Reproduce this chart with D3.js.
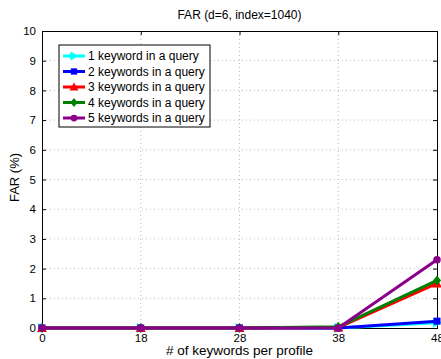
<!DOCTYPE html>
<html>
<head>
<meta charset="utf-8">
<script src="https://cdn.jsdelivr.net/npm/d3@7"></script>
<style>
body { margin: 0; background: #fff; }
text { font-family: "Liberation Sans", Arial, sans-serif; }
</style>
</head>
<body>
<div id="chart"></div>
<script>
const categories = ["0", "18", "28", "38", "48"];
const seriesNames = [
	"1 keyword in a query",
	"2 keywords in a query",
	"3 keywords in a query",
	"4 keywords in a query",
	"5 keywords in a query"
];
const s1 = [0, 0, 0, 0, 0.18];
const s2 = [0, 0, 0, 0, 0.23];
const s3 = [0, 0, 0, 0.02, 1.5];
const s4 = [0, 0, 0, 0.04, 1.6];
const s5 = [0, 0, 0, 0, 2.3];
const yTicks = [0, 1, 2, 3, 4, 5, 6, 7, 8, 9, 10];

const colors = ["#00ffff", "#0000ff", "#ff0000", "#008000", "#8b008b"];
const symbols = ["tri-right", "square", "tri-up", "diamond", "circle"];
const series = [s1, s2, s3, s4, s5];

const w = 441, h = 359;
const margin = { t: 31, r: 4, b: 31, l: 42 };

const svg = d3.select("#chart").append("svg")
	.attr("width", w)
	.attr("height", h);

let xScale = d3.scalePoint()
	.domain(categories)
	.range([margin.l, w - margin.r]);

let yScale = d3.scaleLinear()
	.domain([0, 10])
	.range([h - margin.b, margin.t]);

// grid
let grid = svg.append("g");
grid.selectAll(".gy").data(yTicks.slice(1, -1)).join("line")
	.attr("x1", margin.l).attr("x2", w - margin.r)
	.attr("y1", d => yScale(d)).attr("y2", d => yScale(d))
	.attr("stroke", "#bbb").attr("stroke-dasharray", "1,3");
grid.selectAll(".gx").data(categories.slice(1, -1)).join("line")
	.attr("x1", d => xScale(d)).attr("x2", d => xScale(d))
	.attr("y1", margin.t).attr("y2", h - margin.b)
	.attr("stroke", "#bbb").attr("stroke-dasharray", "1,3");

// axes
let xAxis = d3.axisBottom(xScale).tickSize(-4).tickPadding(6);
let xAxisG = svg.append("g")
	.attr("transform", `translate(0, ${h - margin.b})`)
	.call(xAxis);
let xTopG = svg.append("g")
	.attr("transform", `translate(0, ${margin.t})`)
	.call(d3.axisTop(xScale).tickSize(-4).tickFormat(""));
let yAxis = d3.axisLeft(yScale).tickValues(yTicks).tickSize(-4).tickPadding(6);
let yAxisG = svg.append("g")
	.attr("transform", `translate(${margin.l}, 0)`)
	.call(yAxis);
let yRightG = svg.append("g")
	.attr("transform", `translate(${w - margin.r}, 0)`)
	.call(d3.axisRight(yScale).tickValues(yTicks).tickSize(-4).tickFormat(""));
[xAxisG, xTopG, yAxisG, yRightG].forEach(g => {
	g.selectAll("path").attr("stroke", "#000");
	g.selectAll("line").attr("stroke", "#000");
	g.selectAll("text").attr("font-size", 11.5).attr("fill", "#000")
		.style("font-family", "Liberation Sans, Arial, sans-serif");
});

function marker(g, type, x, y, color, size) {
	if (type === "circle") {
		g.append("circle").attr("cx", x).attr("cy", y).attr("r", size * 0.75).attr("fill", color);
	} else if (type === "square") {
		g.append("rect").attr("x", x - size * 0.7).attr("y", y - size * 0.7)
			.attr("width", size * 1.4).attr("height", size * 1.4).attr("fill", color);
	} else {
		let s = size;
		let pts;
		if (type === "tri-up") pts = [[x, y - s], [x - s, y + s * 0.8], [x + s, y + s * 0.8]];
		if (type === "tri-right") pts = [[x + s, y], [x - s * 0.8, y - s], [x - s * 0.8, y + s]];
		if (type === "diamond") pts = [[x, y - s], [x + s * 0.8, y], [x, y + s], [x - s * 0.8, y]];
		g.append("polygon").attr("points", pts.map(p => p.join(",")).join(" ")).attr("fill", color);
	}
}

// lines
let line = d3.line()
	.x((d, i) => xScale(categories[i]))
	.y(d => yScale(d));

let plot = svg.append("g");
series.forEach((s, k) => {
	let g = plot.append("g");
	g.append("path").datum(s)
		.attr("d", line)
		.attr("fill", "none")
		.attr("stroke", colors[k])
		.attr("stroke-width", 3);
	s.forEach((v, i) => marker(g, symbols[k], xScale(categories[i]), yScale(v), colors[k], 5));
});

// title and labels
svg.append("text").attr("x", (margin.l + w - margin.r) / 2).attr("y", 19)
	.attr("text-anchor", "middle").attr("font-size", 12).text("FAR (d=6, index=1040)");
svg.append("text").attr("x", (margin.l + w - margin.r) / 2).attr("y", 355)
	.attr("text-anchor", "middle").attr("font-size", 13.5).text("# of keywords per profile");
svg.append("text")
	.attr("transform", `translate(19, ${(margin.t + h - margin.b) / 2 - 2}) rotate(-90)`)
	.attr("text-anchor", "middle").attr("font-size", 13).text("FAR (%)");

// legend
let legend = svg.append("g").attr("transform", "translate(59, 45)");
legend.append("rect").attr("width", 151).attr("height", 82)
	.attr("fill", "#fff").attr("stroke", "#000");
seriesNames.forEach((name, k) => {
	let y = 11 + k * 15.5;
	legend.append("line").attr("x1", 4).attr("x2", 26).attr("y1", y).attr("y2", y)
		.attr("stroke", colors[k]).attr("stroke-width", 3);
	marker(legend, symbols[k], 15, y, colors[k], 4.5);
	legend.append("text").attr("x", 29).attr("y", y + 4).attr("font-size", 12).text(name);
});
</script>
</body>
</html>
